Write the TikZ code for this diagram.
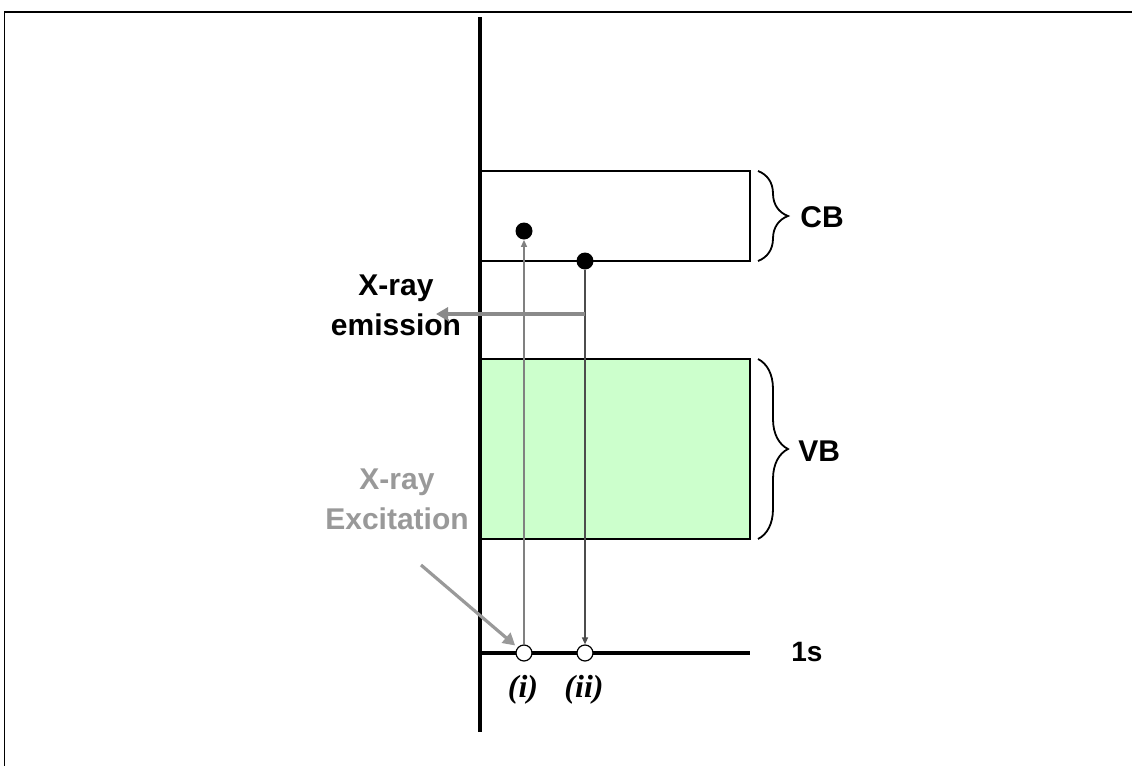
\documentclass[tikz,border=0pt]{standalone}
\usepackage{fontspec}
\setmainfont{Liberation Serif}
\setsansfont{Liberation Sans}
\usetikzlibrary{arrows.meta,decorations.pathreplacing}
\definecolor{vbgreen}{HTML}{CCFFCC}
\definecolor{emitgray}{HTML}{8A8A8A}
\definecolor{excgray}{HTML}{999999}

\begin{document}
\begin{tikzpicture}[x=0.5pt, y=-0.5pt,
  lbl/.style={font=\sffamily\bfseries\fontsize{15}{20}\selectfont, align=center, inner sep=0pt},
  caselbl/.style={font=\rmfamily\bfseries\itshape\fontsize{16}{18}\selectfont, inner sep=0pt},
  electron/.style={circle, fill=black, minimum size=8.5pt, inner sep=0pt},
  hole/.style={circle, draw=black, fill=white, line width=0.6pt, minimum size=8pt, inner sep=0pt},
  band/.style={draw=black, line width=1pt},
  bbrace/.style={decorate, decoration={brace, amplitude=15pt}, line width=0.9pt},
  bigarrow/.style={line width=1.6pt, -{Triangle[length=6pt, width=6.5pt]}},
  transition/.style={line width=0.7pt, -{Triangle[length=3.5pt, width=3pt]}}]
  \useasboundingbox (0,0) rectangle (1132,766);
  \draw[line width=1pt] (4,12) -- (1132,12);
  \draw[line width=0.5pt] (4,12) -- (4,766);
  \draw[band] (480,171) -- (750,171) -- (750,261) -- (480,261);
  \draw[band, fill=vbgreen] (480,359) rectangle (750,539);
  \draw[line width=1.6pt] (480,653) -- (750,653);
  \draw[line width=1.8pt] (480,17) -- (480,732);
  \draw[bbrace] (758,171) -- (758,261);
  \draw[bbrace] (758,359) -- (758,539);
  \node[lbl, anchor=west] (cb) at (800,217) {CB};
  \node[lbl, anchor=west] (vb) at (798,451) {VB};
  \node[lbl, anchor=west, font=\sffamily\bfseries\fontsize{14}{17}\selectfont] (core) at (791,652) {1s};
  \node[electron] (ei) at (524,231) {};
  \node[electron] (eii) at (585,261) {};
  \node[hole] (hi) at (524,653) {};
  \node[hole] (hii) at (585,653) {};
  \node[caselbl] (casei) at (523,690) {(i)};
  \node[caselbl] (caseii) at (584,690) {(ii)};
  \draw[transition, draw=black!50, fill=black] (hi) -- (ei);
  \draw[transition, draw=black!70] (eii) -- (hii);
  \node[lbl] (emission) at (396,305) {X-ray\\emission};
  \node[lbl, text=excgray] (excitation) at (397,499) {X-ray\\Excitation};
  \coordinate (emitstart) at (585,314);
  \coordinate (emitend) at (436,314);
  \coordinate (excstart) at (421,565);
  \draw[bigarrow, emitgray] (emitstart) -- (emitend);
  \draw[bigarrow, excgray, shorten >=1.5pt] (excstart) -- (hi);
\end{tikzpicture}
\end{document}
